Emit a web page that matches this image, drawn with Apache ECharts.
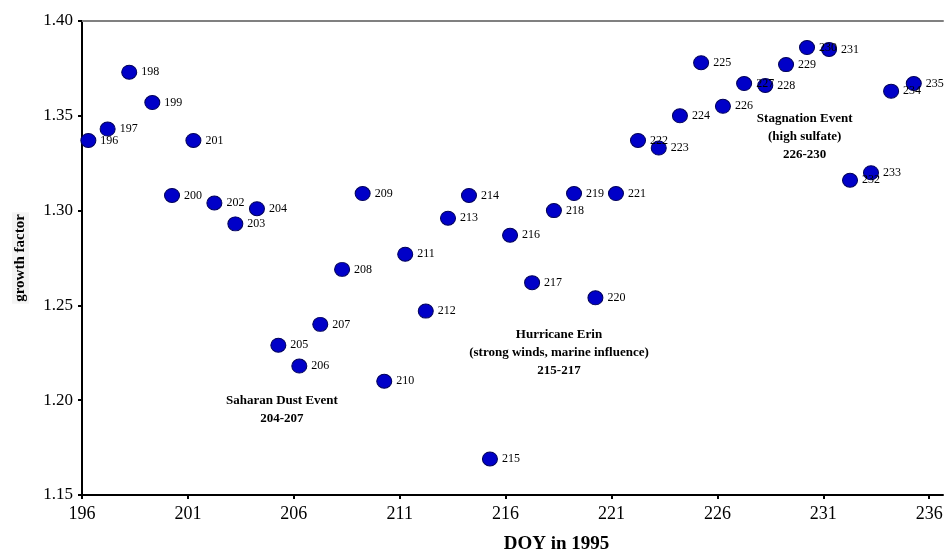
<!DOCTYPE html>
<html>
<head>
<meta charset="utf-8">
<script src="https://cdn.jsdelivr.net/npm/echarts@6/dist/echarts.min.js"></script>
<style>
  html, body { margin: 0; padding: 0; background: #fff; }
  #chart { width: 948px; height: 558px; }
</style>
</head>
<body>
<div id="chart"></div>
<script>
  // day labels, plotted position (DOY) and growth factor
  var days = [196,197,198,199,200,201,202,203,204,205,206,207,208,209,210,211,212,213,214,215,
              216,217,218,219,220,221,222,223,224,225,226,227,228,229,230,231,232,233,234,235];
  var doyPos = [196.30,197.21,198.23,199.32,200.25,201.26,202.25,203.24,204.26,205.27,
                206.26,207.25,208.28,209.25,210.27,211.26,212.23,213.28,214.27,215.26,
                216.21,217.25,218.28,219.23,220.24,221.21,222.25,223.23,224.23,225.23,
                226.26,227.26,228.26,229.24,230.23,231.27,232.26,233.25,234.20,235.27];
  var growth = [1.337,1.343,1.373,1.357,1.308,1.337,1.304,1.293,1.301,1.229,
                1.218,1.240,1.269,1.309,1.210,1.277,1.247,1.296,1.308,1.169,
                1.287,1.262,1.300,1.309,1.254,1.309,1.337,1.333,1.350,1.378,
                1.355,1.367,1.366,1.377,1.386,1.385,1.316,1.320,1.363,1.367];
  var xTicks = [196,201,206,211,216,221,226,231,236];

  // event notes: [x, y, text]
  var notes = [
    [205.44, 1.195, 'Saharan Dust Event\n204-207'],
    [218.52, 1.2251, 'Hurricane Erin\n(strong winds, marine influence)\n215-217'],
    [230.12, 1.339, 'Stagnation Event\n(high sulfate)\n226-230']
  ];

  var serif = '"Liberation Serif", "DejaVu Serif", serif';

  var points = days.map(function (d, i) {
    return [doyPos[i], growth[i], d];
  });

  var myChart = echarts.init(document.getElementById('chart'));
  var option = {
    animation: false,
    grid: {
      left: 82,
      right: 5,
      top: 21,
      bottom: 63,
      outerBoundsMode: 'none'
    },
    xAxis: [{
      type: 'value',
      min: 196,
      max: 236.65,
      name: 'DOY in 1995',
      nameLocation: 'middle',
      nameGap: 40,
      nameTextStyle: {
        fontFamily: serif,
        fontWeight: 'bold',
        fontSize: 19,
        color: '#000',
        padding: [0, 0, 0, 88]
      },
      axisLine: { lineStyle: { color: '#000', width: 2 } },
      axisTick: {
        show: true,
        inside: false,
        length: 4,
        customValues: xTicks,
        lineStyle: { color: '#000', width: 2 }
      },
      axisLabel: {
        customValues: xTicks,
        fontFamily: serif,
        fontSize: 18,
        color: '#000',
        margin: 10
      },
      splitLine: { show: false }
    }, {
      // grey frame line along the top
      type: 'value',
      position: 'top',
      min: 196,
      max: 236.65,
      axisLine: { lineStyle: { color: '#808080', width: 2 } },
      axisTick: { show: false },
      axisLabel: { show: false },
      splitLine: { show: false }
    }],
    yAxis: {
      type: 'value',
      min: 1.15,
      max: 1.40,
      interval: 0.05,
      name: 'growth factor',
      nameLocation: 'middle',
      nameGap: 53,
      nameTextStyle: {
        fontFamily: serif,
        fontWeight: 'bold',
        fontSize: 15,
        color: '#000',
        backgroundColor: '#f4f4f4',
        padding: [1, 2]
      },
      axisLine: { show: true, lineStyle: { color: '#000', width: 2 } },
      axisTick: { show: true, length: 4, lineStyle: { color: '#000', width: 2 } },
      axisLabel: {
        fontFamily: serif,
        fontSize: 17,
        color: '#000',
        margin: 9,
        formatter: function (v) { return v.toFixed(2); }
      },
      splitLine: { show: false }
    },
    series: [{
      name: 'growth factor',
      type: 'scatter',
      xAxisIndex: 0,
      data: points,
      symbol: 'circle',
      symbolSize: [15, 14],
      itemStyle: {
        color: '#0000c8',
        borderColor: '#00005a',
        borderWidth: 1,
        opacity: 1
      },
      label: {
        show: true,
        position: 'right',
        distance: 4,
        fontFamily: serif,
        fontSize: 12,
        color: '#000',
        formatter: function (p) { return p.value[2]; }
      }
    }, {
      name: 'notes',
      type: 'scatter',
      xAxisIndex: 0,
      silent: true,
      symbolSize: 0,
      data: notes,
      itemStyle: { opacity: 1 },
      label: {
        show: true,
        position: 'inside',
        fontFamily: serif,
        fontWeight: 'bold',
        fontSize: 13,
        lineHeight: 18,
        align: 'center',
        color: '#000',
        formatter: function (p) { return p.value[2]; }
      }
    }]
  };
  myChart.setOption(option, true);
</script>
</body>
</html>
